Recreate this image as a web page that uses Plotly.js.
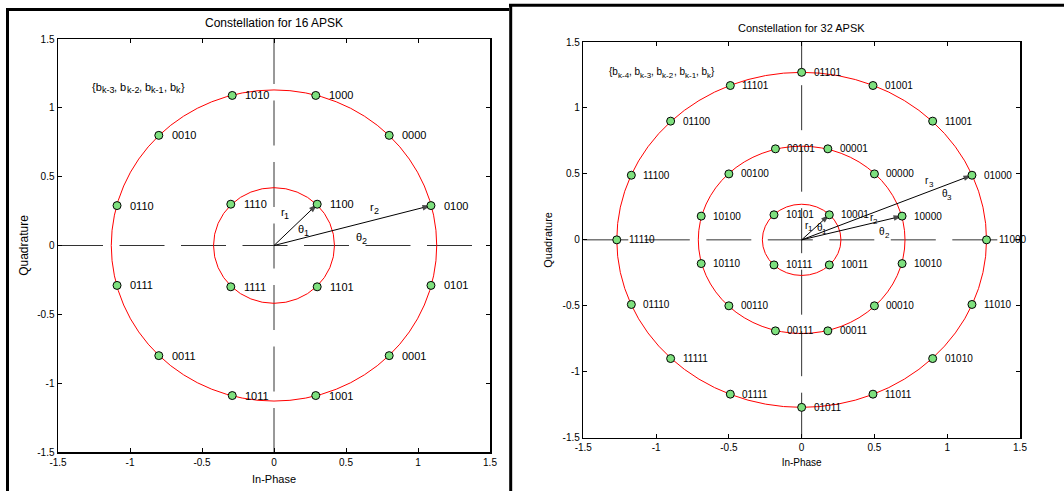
<!DOCTYPE html>
<html><head><meta charset="utf-8">
<script src="https://cdn.plot.ly/plotly-3.0.1.min.js"></script>
<style>html,body{margin:0;padding:0;background:#fff}#chart{width:1064px;height:491px}</style>
</head><body><div id="chart"></div><script>
// ---- tick values ----
const tickVals = [-1.5, -1, -0.5, 0, 0.5, 1, 1.5];
const tickText = ['-1.5', '-1', '-0.5', '0', '0.5', '1', '1.5'];

// ---- 16 APSK ----
const apsk16Radii = [0.42, 1.13];
const apsk16X = [1.09, 0.80, 0.29, -0.29, -0.80, -1.09, -1.09, -0.80, -0.29, 0.29, 0.80, 1.09, 0.30, -0.30, -0.30, 0.30];
const apsk16Y = [0.29, 0.80, 1.09, 1.09, 0.80, 0.29, -0.29, -0.80, -1.09, -1.09, -0.80, -0.29, 0.30, 0.30, -0.30, -0.30];
const apsk16Labels = ['0100', '0000', '1000', '1010', '0010', '0110', '0111', '0011', '1011', '1001', '0001', '0101', '1100', '1110', '1111', '1101'];
const arrowOrigin = [0, 0];
const arrow16X = [0.30, 1.09];
const arrow16Y = [0.30, 0.29];
const sym16Base = ['r', '\u03b8', 'r', '\u03b8'];
const sym16Sub = ['1', '1', '2', '2'];
const sym16X = [0.07, 0.20, 0.69, 0.60];
const sym16Y = [0.24, 0.12, 0.28, 0.06];
const note16Parts = [['{b', 0], ['k-3', 1], [', b', 0], ['k-2', 1], [', b', 0], ['k-1', 1], [', b', 0], ['k', 1], ['}', 0]];

// ---- 32 APSK ----
const apsk32Radii = [0.27, 0.71, 1.27];
const apsk32X = [1.27, 1.17, 0.90, 0.49, 0.00, -0.49, -0.90, -1.17, -1.27, -1.17, -0.90, -0.49, 0.00, 0.49, 0.90, 1.17,
                 0.69, 0.50, 0.18, -0.18, -0.50, -0.69, -0.69, -0.50, -0.18, 0.18, 0.50, 0.69,
                 0.19, -0.19, -0.19, 0.19];
const apsk32Y = [0.00, 0.49, 0.90, 1.17, 1.27, 1.17, 0.90, 0.49, 0.00, -0.49, -0.90, -1.17, -1.27, -1.17, -0.90, -0.49,
                 0.18, 0.50, 0.69, 0.69, 0.50, 0.18, -0.18, -0.50, -0.69, -0.69, -0.50, -0.18,
                 0.19, 0.19, -0.19, -0.19];
const apsk32Labels = ['11000', '01000', '11001', '01001', '01101', '11101', '01100', '11100', '11110', '01110', '11111', '01111', '01011', '11011', '01010', '11010',
                      '10000', '00000', '00001', '00101', '00100', '10100', '10110', '00110', '00111', '00011', '00010', '10010',
                      '10001', '10101', '10111', '10011'];
const arrow32X = [0.19, 0.69, 1.17];
const arrow32Y = [0.19, 0.18, 0.49];
const sym32Base = ['r', '\u03b8', 'r', '\u03b8', 'r', '\u03b8'];
const sym32Sub = ['1', '1', '2', '2', '3', '3'];
const sym32X = [0.04, 0.13, 0.49, 0.56, 0.87, 0.99];
const sym32Y = [0.11, 0.09, 0.17, 0.06, 0.45, 0.35];
const note32Parts = [['{b', 0], ['k-4', 1], [', b', 0], ['k-3', 1], [', b', 0], ['k-2', 1], [', b', 0], ['k-1', 1], [', b', 0], ['k', 1], ['}', 0]];

const FONT = 'Liberation Sans, Arial, Helvetica, sans-serif';
const TXT = '#000';
const W = 1064, H = 491;
const px = v => v / W;
const py = v => 1 - v / H;
const SUB_SCALE = 0.78;

const canvas = document.createElement('canvas');
const ctx = canvas.getContext('2d');
function textWidth(t, size) {
  ctx.font = size + 'px "Liberation Sans", Arial, sans-serif';
  return ctx.measureText(t).width;
}

const markerStyle = {size: 8, color: '#7ee07e', line: {color: '#000', width: 1}};
const traces = [];

function arrowTraces(X, Y, xa, ya) {
  for (let i = 0; i < X.length; i++) {
    traces.push({type: 'scatter', mode: 'lines+markers', x: [arrowOrigin[0], X[i]], y: [arrowOrigin[1], Y[i]], xaxis: xa, yaxis: ya,
      line: {color: '#000', width: 1}, marker: {symbol: ['circle', 'arrow'], size: [0, 9], angleref: 'previous', color: '#000', line: {width: 0}},
      hoverinfo: 'skip', showlegend: false, cliponaxis: false});
  }
}
arrowTraces(arrow16X, arrow16Y, 'x', 'y');
arrowTraces(arrow32X, arrow32Y, 'x2', 'y2');

traces.push({type: 'scatter', mode: 'markers', x: apsk16X, y: apsk16Y, xaxis: 'x', yaxis: 'y', marker: markerStyle, hoverinfo: 'x+y', showlegend: false});
traces.push({type: 'scatter', mode: 'markers', x: apsk32X, y: apsk32Y, xaxis: 'x2', yaxis: 'y2', marker: markerStyle, hoverinfo: 'x+y', showlegend: false});

const shapes = [];
const annotations = [];
const dashPat = '45px,16.5px';
const axLine = {color: '#333', width: 1, dash: dashPat};
// 16 APSK cross (horizontal left->right, vertical top->bottom)
shapes.push({type: 'line', xref: 'x', yref: 'y', x0: -1.5, x1: 1.5, y0: 0, y1: 0, layer: 'below', line: axLine});
shapes.push({type: 'line', xref: 'x', yref: 'y', x0: 0, x1: 0, y0: 1.5, y1: -1.5, layer: 'below', line: axLine});
// 32 APSK cross (horizontal left->right, vertical bottom->top)
shapes.push({type: 'line', xref: 'x2', yref: 'y2', x0: -1.5, x1: 1.5, y0: 0, y1: 0, layer: 'below', line: axLine});
shapes.push({type: 'line', xref: 'x2', yref: 'y2', x0: 0, x1: 0, y0: -1.5, y1: 1.5, layer: 'below', line: axLine});

apsk16Radii.forEach(r => shapes.push({type: 'circle', xref: 'x', yref: 'y', x0: -r, x1: r, y0: -r, y1: r, layer: 'below', line: {color: '#ff0000', width: 1}}));
apsk32Radii.forEach(r => shapes.push({type: 'circle', xref: 'x2', yref: 'y2', x0: -r, x1: r, y0: -r, y1: r, layer: 'below', line: {color: '#ff0000', width: 1}}));

// figure frames
const frame = {color: '#000', width: 3};
shapes.push({type: 'line', xref: 'paper', yref: 'paper', x0: px(7.5), x1: px(7.5), y0: py(8), y1: py(492), line: frame});
shapes.push({type: 'line', xref: 'paper', yref: 'paper', x0: px(6), x1: px(509), y0: py(9.5), y1: py(9.5), line: frame});
shapes.push({type: 'line', xref: 'paper', yref: 'paper', x0: px(510.7), x1: px(510.7), y0: py(4), y1: py(492), line: frame});
shapes.push({type: 'line', xref: 'paper', yref: 'paper', x0: px(509), x1: px(1065), y0: py(5.3), y1: py(5.3), line: frame});

function pointLabels(X, Y, L, xr, yr, size, shift) {
  for (let i = 0; i < X.length; i++) {
    annotations.push({x: X[i], y: Y[i], xref: xr, yref: yr, text: L[i], showarrow: false, xanchor: 'left', yanchor: 'middle', xshift: shift, font: {family: FONT, size: size, color: TXT}});
  }
}
pointLabels(apsk16X, apsk16Y, apsk16Labels, 'x', 'y', 11, 11);
pointLabels(apsk32X, apsk32Y, apsk32Labels, 'x2', 'y2', 10, 10);

// text with subscripts, laid out piece by piece as plain text
function richText(x, y, xr, yr, parts, size, centered) {
  const subSize = Math.round(size * SUB_SCALE);
  const widths = parts.map(p => textWidth(p[0], p[1] ? subSize : size));
  const total = widths.reduce((a, b) => a + b, 0);
  let off = centered ? -total / 2 : 0;
  parts.forEach((p, i) => {
    annotations.push({x: x, y: y, xref: xr, yref: yr, text: p[0], showarrow: false, xanchor: 'left', yanchor: 'middle',
      xshift: off, yshift: p[1] ? -0.36 * size : 0, borderpad: 0, font: {family: FONT, size: p[1] ? subSize : size, color: TXT}});
    off += widths[i];
  });
}
for (let i = 0; i < sym16X.length; i++) richText(sym16X[i], sym16Y[i], 'x', 'y', [[sym16Base[i], 0], [sym16Sub[i], 1]], 11, true);
for (let i = 0; i < sym32X.length; i++) richText(sym32X[i], sym32Y[i], 'x2', 'y2', [[sym32Base[i], 0], [sym32Sub[i], 1]], 10, true);
richText(-1.27, 1.155, 'x', 'y', note16Parts, 11, false);
richText(-1.33, 1.276, 'x2', 'y2', note32Parts, 10, false);

// plot titles
annotations.push({x: px(274), y: py(23), xref: 'paper', yref: 'paper', text: 'Constellation for 16 APSK', showarrow: false, xanchor: 'center', yanchor: 'middle', font: {family: FONT, size: 12, color: TXT}});
annotations.push({x: px(801.5), y: py(28), xref: 'paper', yref: 'paper', text: 'Constellation for 32 APSK', showarrow: false, xanchor: 'center', yanchor: 'middle', font: {family: FONT, size: 11, color: TXT}});

function axis(domain, anchor, titleText, titleSize, standoff) {
  return {
    domain: domain, anchor: anchor, range: [-1.5, 1.5], tickmode: 'array', tickvals: tickVals, ticktext: tickText,
    ticks: 'inside', ticklen: 4, tickwidth: 1, tickcolor: '#000', showline: true, linecolor: '#000', linewidth: 1.5, mirror: 'ticks',
    showgrid: false, zeroline: false, tickfont: {family: FONT, size: 10, color: TXT}, fixedrange: true, automargin: false,
    title: {text: titleText, font: {family: FONT, size: titleSize, color: TXT}, standoff: standoff}
  };
}

const layout = {
  width: W, height: H, margin: {l: 0, r: 0, t: 0, b: 0}, paper_bgcolor: '#fff', plot_bgcolor: '#fff', showlegend: false,
  font: {family: FONT},
  xaxis: axis([px(58), px(490)], 'y', 'In-Phase', 11, 9),
  yaxis: axis([py(452), py(39)], 'x', 'Quadrature', 12, 6),
  xaxis2: axis([px(583.3), px(1020)], 'y2', 'In-Phase', 10, 7),
  yaxis2: axis([py(437.7), py(42)], 'x2', 'Quadrature', 11, 7),
  shapes: shapes, annotations: annotations
};

Plotly.newPlot('chart', traces, layout, {staticPlot: true, displayModeBar: false});
</script></body></html>
